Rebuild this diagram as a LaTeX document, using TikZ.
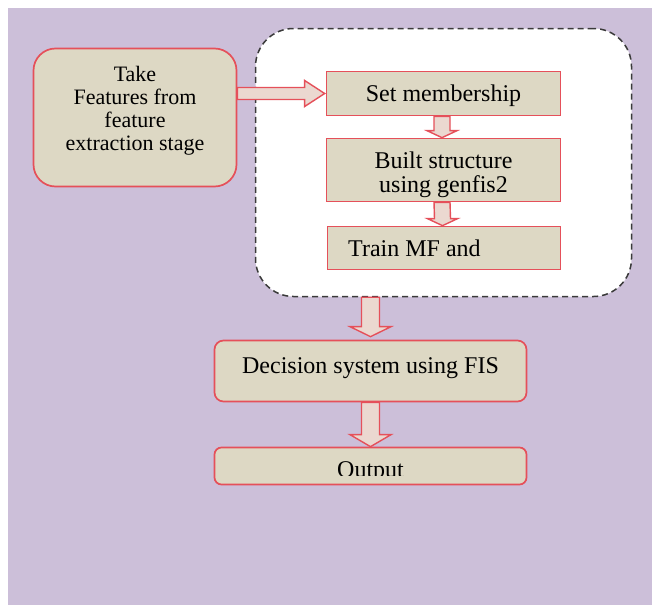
\documentclass[tikz,border=0pt]{standalone}
\usepackage{fontspec}
\setmainfont{Liberation Serif}
\usetikzlibrary{calc}
\definecolor{lav}{HTML}{CCBFD9}
\definecolor{beige}{HTML}{DDD8C4}
\definecolor{redb}{HTML}{E5505A}
\definecolor{arrowfill}{HTML}{EBD8D0}
\definecolor{dashc}{HTML}{3A3A3A}
\newcommand\vblock[5]{%
  \draw[barrow] ($(#1)+(-#3,0)$) -- ($(#2)+(-#3,-#5)$) -- ($(#2)+(-#4,-#5)$) -- (#2)
    -- ($(#2)+(#4,-#5)$) -- ($(#2)+(#3,-#5)$) -- ($(#1)+(#3,0)$) -- cycle;}
\begin{document}
\begin{tikzpicture}[x=1pt,y=-1pt,
  box/.style={draw=redb, line width=1.7pt, fill=beige, inner sep=0pt},
  lbl/.style={font=\fontsize{24}{24}\selectfont, text=black, align=center, inner sep=0pt},
  barrow/.style={draw=redb, line width=1.4pt, fill=arrowfill, line join=miter}]
\useasboundingbox (0,0) rectangle (652,605);
\fill[white] (0,0) rectangle (652,605);
\fill[lav] (8,8) rectangle (652,605);
% dashed group
\node[draw=dashc, dash pattern=on 6pt off 4pt, line width=1.5pt, fill=white,
  rounded corners=38pt, minimum width=376pt, minimum height=268pt] (group) at (443.5,162.5) {};
% boxes
\node[box, rounded corners=22pt, minimum width=203pt, minimum height=138pt] (take) at (135,117.5) {};
\node[box, minimum width=234pt, minimum height=44pt] (set) at (443.5,93.5) {};
\node[box, minimum width=234pt, minimum height=63pt] (built) at (443.5,170) {};
\node[box, minimum width=233pt, minimum height=43pt] (train) at (444,248) {};
\node[box, rounded corners=9pt, minimum width=312pt, minimum height=61pt] (dec) at (370.5,371) {};
\node[box, rounded corners=7pt, minimum width=312pt, minimum height=37pt] (out) at (370.5,466) {};
% texts
\node[lbl, font=\fontsize{22}{23}\selectfont] (taket) at (135,111) {Take\\Features from\\feature\\extraction stage};
\node[lbl, anchor=base] (sett) at (443.5,101) {Set membership};
\begin{scope}
  \clip (built.north west) rectangle ($(built.south east)+(0,-4)$);
  \node[lbl] (builtt) at (443.5,175) {Built structure\\using genfis2};
\end{scope}
\node[lbl, anchor=base west] (traint) at (348,256) {Train MF and};
\node[lbl, anchor=base] (dect) at (370.5,373) {Decision system using FIS};
\begin{scope}
  \clip (out.north west) rectangle ($(out.south east)+(0,-10)$);
  \node[lbl, anchor=base] (outt) at (370.5,477) {Output};
\end{scope}
% arrows
\draw[barrow] let \p1=(take.east), \p2=(set.west) in
  (\x1,\y2-6pt) -- (\x2-21pt,\y2-6pt) -- (\x2-21pt,\y2-13pt) -- (\x2-1pt,\y2)
  -- (\x2-21pt,\y2+13pt) -- (\x2-21pt,\y2+6pt) -- (\x1,\y2+6pt) -- cycle;
\coordinate (s1) at ([xshift=-1.5pt]set.south);
\coordinate (e1) at ([xshift=-1.5pt]built.north);
\vblock{s1}{e1}{8}{15}{7}
\coordinate (s2) at ([xshift=-1.5pt]built.south);
\coordinate (e2) at ([xshift=-1.5pt]train.north);
\vblock{s2}{e2}{8}{15}{7}
\coordinate (gs) at (dec.north |- group.south);
\coordinate (e3) at ([yshift=3pt]dec.north);
\vblock{gs}{e3}{9}{20.5}{10}
\vblock{dec.south}{out.north}{9}{20.5}{12}
\end{tikzpicture}
\end{document}
